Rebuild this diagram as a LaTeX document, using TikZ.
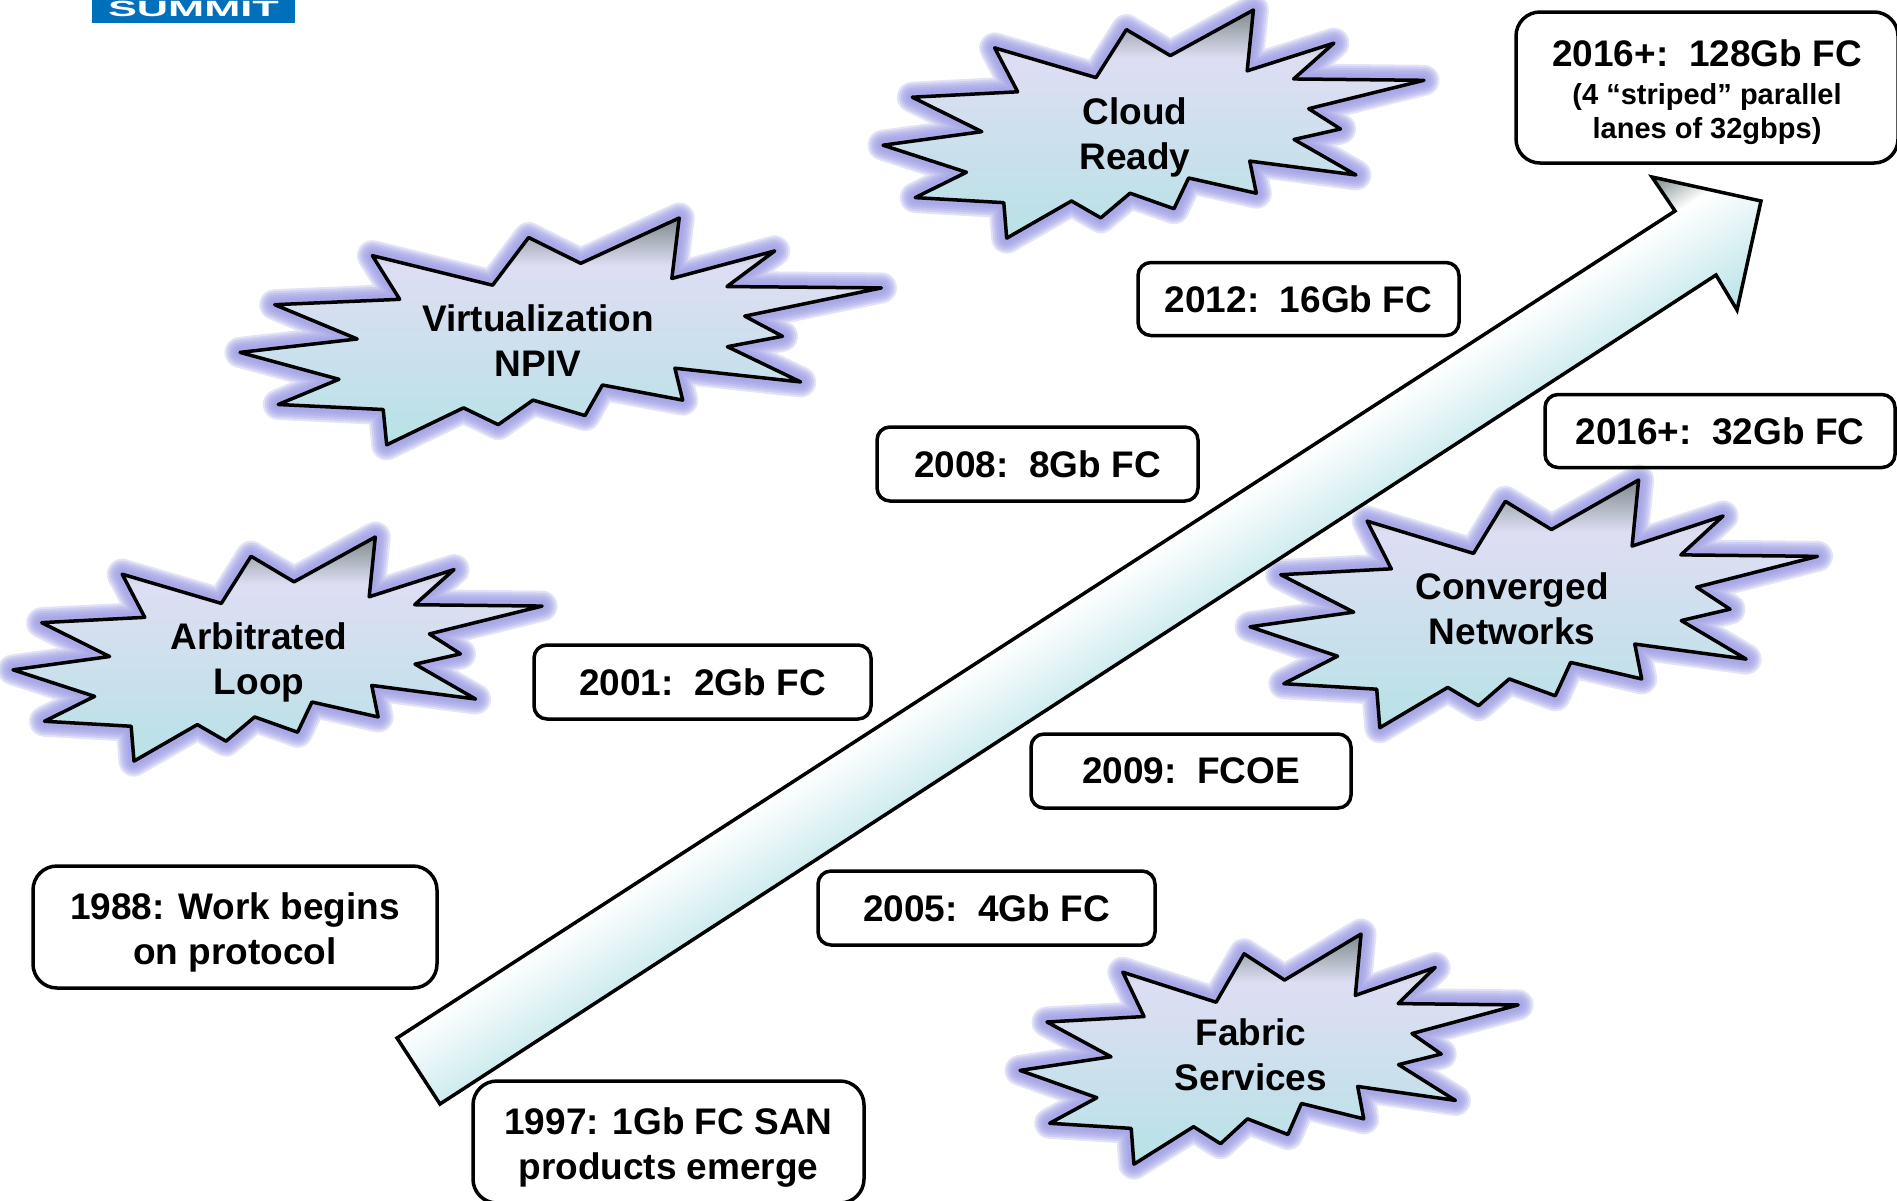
\documentclass[tikz,border=0pt]{standalone}
\usepackage{fontspec}
\usepackage{graphicx}
\setmainfont{Liberation Sans}
\usepackage{tikz}
\definecolor{halo}{RGB}{155,155,228}
\definecolor{burstgray}{RGB}{125,138,140}
\definecolor{burstlav}{RGB}{222,222,243}
\definecolor{teal1}{RGB}{183,226,230}
\definecolor{logoblue}{RGB}{0,112,187}
\pgfdeclareverticalshading{burstfade}{100bp}{color(0bp)=(teal1); color(25bp)=(teal1); color(64.5bp)=(burstlav); color(75bp)=(burstgray); color(100bp)=(burstgray)}
\pgfdeclareverticalshading{arrowfade}{100bp}{color(0bp)=(teal1); color(25bp)=(teal1); color(62bp)=(white); color(75bp)=(burstgray); color(100bp)=(burstgray)}
\newcommand{\burstoutline}{(305,112) -- (582,200) -- (665,58) -- (785,135) -- (1012,0) -- (995,180) -- (1232,98) -- (1122,204) -- (1478,208) -- (1163,292) -- (1250,352) -- (1123,383) -- (1292,488) -- (1002,447) -- (1020,542) -- (835,497) -- (795,588) -- (675,542) -- (595,615) -- (515,565) -- (338,675) -- (330,570) -- (88,555) -- (228,480) -- (0,400) -- (270,360) -- (80,258) -- (368,242) -- cycle}
\newcommand{\firstline}{\rule{0pt}{37pt}}

\begin{document}
\begin{tikzpicture}[
  x=1pt, y=-1pt,
  box/.style={draw, line width=3.5pt, rounded corners=13pt, inner sep=0pt, align=center,
              font=\fontsize{37}{45}\selectfont\bfseries},
  bigbox/.style={box, rounded corners=24pt},
  burstlabel/.style={align=center, inner sep=0pt, font=\fontsize{37}{45}\selectfont\bfseries},
  burst/.pic={
    \foreach \w in {31,27,23,19,15,11}
      \draw[halo, opacity=0.28, line width=\w pt, line join=round] \burstoutline;
    \draw[black, line width=3.5pt, line join=round, shading=burstfade] \burstoutline;
  }
]
\useasboundingbox (0,0) rectangle (1897,1200);

% logo
\node[fill=logoblue, minimum width=203pt, minimum height=23pt, inner sep=0pt] (logo) at (193.5,11.5) {};
\node[white, inner sep=0pt, font=\fontsize{22}{22}\selectfont\bfseries] (logotext) at (193.5,9) {\scalebox{1.97}[1]{SUMMIT}};

% bursts
\pic[xscale=.358, yscale=.332] at (13,537) {burst};
\pic[xscale=.434, yscale=.336] at (240,218) {burst};
\pic[xscale=.366, yscale=.338] at (883,10) {burst};
\pic[xscale=.384, yscale=.367] at (1250,480) {burst};
\pic[xscale=.337, yscale=.341] at (1020,934) {burst};
\node[burstlabel] (loop)  at (259,662)  {Arbitrated\\Loop};
\node[burstlabel] (npiv)  at (538,341)  {Virtualization\\NPIV};
\node[burstlabel] (cloud) at (1135,137) {Cloud\\Ready};
\node[burstlabel] (conv)  at (1512,609) {Converged\\Networks};
\node[burstlabel] (fabric) at (1251,1055) {Fabric\\Services};

% big arrow
\begin{scope}
\clip (397,1038) -- (1675,211) -- (1652,177) -- (1761,201) -- (1737,310) -- (1716,275) -- (440,1104) -- cycle;
\shade[shading=arrowfade, transform canvas={rotate around={32.8:(1056,657)}}] (106,578) rectangle (2006,736);
\end{scope}
\draw[line width=3.5pt, miter limit=20] (397,1038) -- (1675,211) -- (1652,177) -- (1761,201) -- (1737,310) -- (1716,275) -- (440,1104) -- cycle;

% year boxes
\node[bigbox, minimum width=404pt, minimum height=122pt] (y1988) at (235,927) {\firstline 1988: Work begins\\on protocol};
\node[bigbox, minimum width=391pt, minimum height=122pt] (y1997) at (668.5,1142) {\firstline 1997: 1Gb FC SAN\\products emerge};
\node[box, minimum width=337pt, minimum height=74pt] (y2001) at (702.5,682) {2001:~~2Gb FC};
\node[box, minimum width=337pt, minimum height=74pt] (y2005) at (986.5,908) {2005:~~4Gb FC};
\node[box, minimum width=321pt, minimum height=74pt] (y2008) at (1037.5,464) {2008:~~8Gb FC};
\node[box, minimum width=320pt, minimum height=74pt] (y2009) at (1191,771) {2009:~~FCOE};
\node[box, minimum width=321pt, minimum height=73pt] (y2012) at (1298.5,299) {2012:~~16Gb FC};
\node[box, minimum width=350pt, minimum height=73pt] (y2016a) at (1720,431) {2016+:~~32Gb FC};
\node[bigbox, minimum width=382pt, minimum height=151pt] (y2016b) at (1707,87.5)
  {\firstline 2016+:~~128Gb FC\\[-7pt]\fontsize{29}{34.5}\selectfont (4 “striped” parallel\\[-11pt]\fontsize{29}{34.5}\selectfont lanes of 32gbps)};
\end{tikzpicture}
\end{document}
